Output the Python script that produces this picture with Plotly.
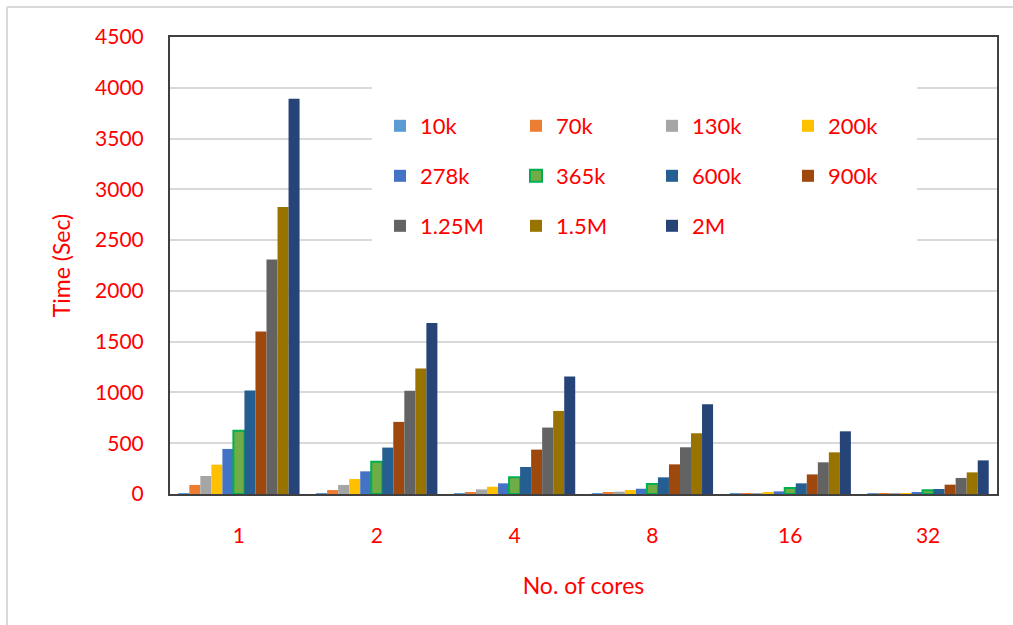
import plotly.graph_objects as go

# Execution time (seconds) per problem size, grouped by number of cores
cores = ["1", "2", "4", "8", "16", "32"]
sizes = ["10k", "70k", "130k", "200k", "278k", "365k", "600k", "900k", "1.25M", "1.5M", "2M"]

t_10k = [5, 3, 2, 1, 1, 1]
t_70k = [89, 39, 16, 10, 3, 1]
t_130k = [177, 89, 45, 23, 9, 2]
t_200k = [289, 148, 72, 39, 14, 4]
t_278k = [444, 223, 105, 52, 26, 14]
t_365k = [624, 318, 164, 99, 59, 36]
t_600k = [1019, 457, 266, 164, 105, 49]
t_900k = [1600, 710, 437, 292, 193, 92]
t_125m = [2308, 1016, 654, 460, 312, 158]
t_15m = [2827, 1236, 818, 598, 410, 213]
t_2m = [3892, 1683, 1157, 884, 617, 331]

series = [t_10k, t_70k, t_130k, t_200k, t_278k, t_365k,
          t_600k, t_900k, t_125m, t_15m, t_2m]

colors = ["#5B9BD5", "#ED7D31", "#A5A5A5", "#FFC000", "#4472C4", "#70AD47",
          "#255E91", "#9E480E", "#636363", "#997300", "#264478"]
outline = {"365k": ("#00B050", 2)}

# legend rows (4 + 4 + 3 entries)
legend_of = ["legend"] * 4 + ["legend2"] * 4 + ["legend3"] * 3

W, H = 1013, 625
L, R, T, B = 170, 16, 37, 131
PW, PH = W - L - R, H - T - B


def px(x):
    return (x - L) / PW


def py(y):
    return (H - B - y) / PH


RED = "#FF0000"
FONT = "Lato, Calibri, Carlito, sans-serif"

fig = go.Figure()
for name, vals, col, lg in zip(sizes, series, colors, legend_of):
    lc, lw = outline.get(name, (col, 0))
    fig.add_trace(go.Bar(
        x=cores, y=vals, name=name, legend=lg,
        marker=dict(color=col, line=dict(color=lc, width=lw)),
    ))

legend_style = dict(
    orientation="h", xanchor="left", yanchor="middle",
    font=dict(family=FONT, size=22, color=RED),
    bgcolor="rgba(0,0,0,0)", entrywidth=91, itemwidth=30,
    traceorder="normal",
)

fig.update_layout(
    width=W, height=H,
    margin=dict(l=L, r=R, t=T, b=B, pad=0),
    paper_bgcolor="white", plot_bgcolor="white",
    barmode="group", bargap=0.12, bargroupgap=0,
    font=dict(family=FONT, color=RED),
    legend=dict(x=px(380), y=py(126), **legend_style),
    legend2=dict(x=px(380), y=py(176), **legend_style),
    legend3=dict(x=px(380), y=py(226), **legend_style),
    xaxis=dict(
        title=dict(text="No. of cores", font=dict(size=23, color=RED), standoff=32),
        tickfont=dict(size=21, color=RED),
        showline=True, mirror=True, linecolor="#404040", linewidth=2,
        ticks="", ticklabelstandoff=22, showgrid=False,
    ),
    yaxis=dict(
        title=dict(text="Time (Sec)", font=dict(size=23, color=RED), standoff=18),
        tickfont=dict(size=21, color=RED),
        range=[0, 4500], dtick=500, tickformat="d",
        showline=True, mirror=True, linecolor="#404040", linewidth=2,
        gridcolor="#D9D9D9", gridwidth=1.5, ticks="", ticklabelstandoff=20,
        zeroline=False,
    ),
    shapes=[
        # white panel behind the legend rows
        dict(type="rect", xref="paper", yref="paper",
             x0=px(372), x1=px(917), y0=py(255), y1=py(80),
             fillcolor="white", line=dict(width=0), layer="above"),
        # chart border (top and left edges)
        dict(type="line", xref="paper", yref="paper",
             x0=px(7), x1=px(W), y0=py(7), y1=py(7),
             line=dict(color="#D9D9D9", width=2)),
        dict(type="line", xref="paper", yref="paper",
             x0=px(7), x1=px(7), y0=py(7), y1=py(H),
             line=dict(color="#D9D9D9", width=2)),
    ],
)

fig.write_html("out.html")
